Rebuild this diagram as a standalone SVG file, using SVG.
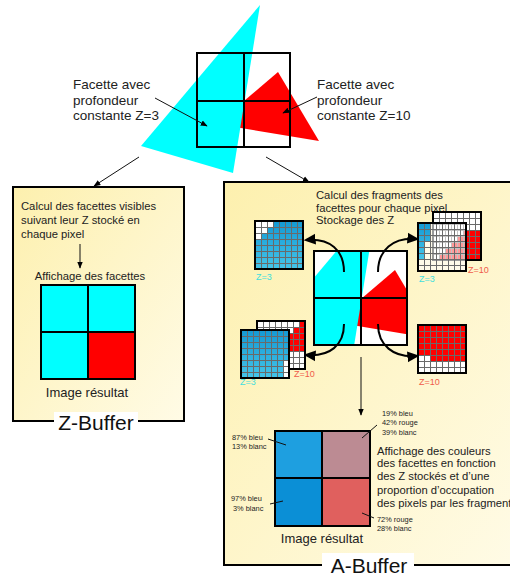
<svg xmlns="http://www.w3.org/2000/svg" xmlns:xlink="http://www.w3.org/1999/xlink" width="510" height="576" viewBox="0 0 510 576">
<style>
text{font-family:"Liberation Sans",Arial,sans-serif;fill:#222}
.lbl{font-size:13.5px}
.t{font-size:11.25px}
.res{font-size:13px}
.pct{font-size:7.4px}
.title{font-size:21px;fill:#111}
.z3{font-size:9px;fill:#40dede}
.z10{font-size:9px;fill:#f05a4a}
.ln{stroke:#111;stroke-width:1;fill:none}
.cv{stroke:#000;stroke-width:2;fill:none;marker-end:url(#ahBig)}
.frame{fill:none;stroke:#000;stroke-width:2}
.gfr{fill:none;stroke:#000;stroke-width:2}
.box{stroke:#000;stroke-width:2}
</style>
<defs>
<marker id="ah" viewBox="0 0 10 10" refX="9" refY="5" markerWidth="7" markerHeight="7" markerUnits="userSpaceOnUse" orient="auto"><path d="M0,1L10,5L0,9z" fill="#000"/></marker>
<marker id="ahBig" viewBox="0 0 10 10" refX="8" refY="5" markerWidth="12" markerHeight="12" markerUnits="userSpaceOnUse" orient="auto"><path d="M0,0.5L10,5L0,9.5z" fill="#000"/></marker>
<linearGradient id="boxg" x1="0" y1="0" x2="1" y2="1"><stop offset="0" stop-color="#fdf0ae"/><stop offset="1" stop-color="#fffbe6"/></linearGradient>
<linearGradient id="blueg" x1="0" y1="0" x2="0" y2="1"><stop offset="0" stop-color="#1399d3"/><stop offset="1" stop-color="#45c5ea"/></linearGradient>
<pattern id="gl" width="6" height="6" patternUnits="userSpaceOnUse"><path d="M0.5,0V6M0,0.5H6" stroke="#6a6a6a" stroke-width="1" fill="none"/></pattern>
<clipPath id="gclip"><rect x="197" y="53" width="93" height="94"/></clipPath>
<g id="facets">
<polygon points="278,72 319,141 217,124" fill="#ff0000"/>
<polygon points="260,5 141,146 233,173" fill="#00ffff"/>
</g>
</defs>

<g id="top-scene">
<use xlink:href="#facets"/>
<rect x="197" y="53" width="93" height="94" class="frame"/>
<path d="M244,53V147M197,101H290" class="frame"/>
</g>

<g id="label-z3">
<text class="lbl" x="73" y="89">Facette avec</text>
<text class="lbl" x="73" y="105">profondeur</text>
<text class="lbl" x="73" y="120">constante Z=3</text>
</g>
<g id="label-z10">
<text class="lbl" x="317" y="89">Facette avec</text>
<text class="lbl" x="317" y="105">profondeur</text>
<text class="lbl" x="317" y="120">constante Z=10</text>
</g>

<g id="zbuffer">
<rect x="13" y="187" width="171" height="234" fill="url(#boxg)" class="box"/>
<text class="t" x="21" y="210">Calcul des facettes visibles</text>
<text class="t" x="21" y="224">suivant leur Z stocké en</text>
<text class="t" x="21" y="237.5">chaque pixel</text>
<text class="t" x="90" y="280" text-anchor="middle">Affichage des facettes</text>
<rect x="41" y="285" width="47" height="47" fill="#00ffff"/>
<rect x="88" y="285" width="47" height="47" fill="#00ffff"/>
<rect x="41" y="332" width="47" height="47" fill="#00ffff"/>
<rect x="88" y="332" width="47" height="47" fill="#ff0000"/>
<rect x="41" y="285" width="94" height="94" class="frame"/>
<path d="M88,285V379M41,332H135" class="frame"/>
<text class="res" x="87" y="397" text-anchor="middle">Image résultat</text>
<rect x="54" y="412" width="84" height="22" fill="#fff"/>
<text class="title" x="96" y="430" text-anchor="middle">Z-Buffer</text>
</g>

<g id="abuffer">
<rect x="224" y="182" width="292" height="383" fill="url(#boxg)" class="box"/>
<text class="t" x="316" y="198.5">Calcul des fragments des</text>
<text class="t" x="316" y="211.5">facettes pour chaque pixel</text>
<text class="t" x="316" y="224">Stockage des Z</text>

<g id="central-image">
<rect x="314" y="251" width="93" height="94" fill="#fff"/>
<g transform="translate(117,198)" clip-path="url(#gclip)"><use xlink:href="#facets"/></g>
<rect x="314" y="251" width="93" height="94" class="frame"/>
<path d="M361,251V345M314,298H407" class="frame"/>
</g>

<g id="grid-tl" transform="translate(255,221)">
<rect width="48" height="48" fill="url(#blueg)"/>
<path d="M0,0H18V6H12V12H6V18H0z" fill="#fff"/>
<rect width="48" height="48" fill="url(#gl)"/>
<rect width="48" height="48" class="gfr"/>
</g>
<text class="z3" x="256" y="280">Z=3</text>

<g id="grid-tr-back" transform="translate(433,212)">
<rect width="48" height="48" fill="#fff"/>
<path d="M30,18H48V48H6V42H12V36H18V30H24V24H30z" fill="#f00"/>
<rect width="48" height="48" fill="url(#gl)"/>
<rect width="48" height="48" class="gfr"/>
</g>
<g id="grid-tr-front" transform="translate(418,223)">
<rect width="48" height="48" fill="#fff" fill-opacity="0.6"/>
<path d="M0,0H12V18H6V36H0z" fill="url(#blueg)"/>
<rect width="48" height="48" fill="url(#gl)"/>
<rect width="48" height="48" class="gfr"/>
</g>
<text class="z10" x="468" y="273">Z=10</text>
<text class="z3" x="419" y="282">Z=3</text>

<g id="grid-bl-back" transform="translate(257,321)">
<rect width="48" height="48" fill="#fff"/>
<path d="M42,0H48V30H24V18H30V12H36V6H42z" fill="#f00"/>
<rect width="48" height="48" fill="url(#gl)"/>
<rect width="48" height="48" class="gfr"/>
</g>
<g id="grid-bl-front" transform="translate(241,330)">
<rect width="48" height="48" fill="url(#blueg)"/>
<rect x="42" y="30" width="6" height="18" fill="#fff"/>
<rect width="48" height="48" fill="url(#gl)"/>
<rect width="48" height="48" class="gfr"/>
</g>
<text class="z3" x="240" y="385">Z=3</text>
<text class="z10" x="294" y="377">Z=10</text>

<g id="grid-br" transform="translate(418,325)">
<rect width="48" height="48" fill="#f00"/>
<path d="M0,30H12V36H48V48H0z" fill="#fff"/>
<rect width="48" height="48" fill="url(#gl)"/>
<rect width="48" height="48" class="gfr"/>
</g>
<text class="z10" x="419" y="385">Z=10</text>

<g id="result">
<rect x="275" y="431" width="47" height="47" fill="#1e9fe0"/>
<rect x="322" y="431" width="48" height="47" fill="#bc8b93"/>
<rect x="275" y="478" width="47" height="48" fill="#0b8fd6"/>
<rect x="322" y="478" width="48" height="48" fill="#e0605e"/>
<rect x="275" y="431" width="95" height="95" class="frame"/>
<path d="M322,431V526M275,478H370" class="frame"/>
</g>
<text class="pct" x="382" y="416">19% bleu</text>
<text class="pct" x="382" y="425">42% rouge</text>
<text class="pct" x="382" y="435">39% blanc</text>
<text class="pct" x="232" y="439.5">87% bleu</text>
<text class="pct" x="232" y="448.5">13% blanc</text>
<text class="pct" x="231" y="500.5">97% bleu</text>
<text class="pct" x="233" y="510.5">3% blanc</text>
<text class="pct" x="377" y="521.5">72% rouge</text>
<text class="pct" x="377" y="530.5">28% blanc</text>
<text class="t" x="377" y="454.5">Affichage des couleurs</text>
<text class="t" x="377" y="467">des facettes en fonction</text>
<text class="t" x="377" y="480">des Z stockés et d’une</text>
<text class="t" x="377" y="493.5">proportion d’occupation</text>
<text class="t" x="377" y="506.5">des pixels par les fragments</text>
<text class="res" x="322" y="543" text-anchor="middle">Image résultat</text>
<rect x="322" y="553" width="92" height="23" fill="#fff"/>
<text class="title" x="369" y="573" text-anchor="middle">A-Buffer</text>
</g>

<g id="connectors">
<line x1="155" y1="98" x2="207" y2="126" class="ln" marker-end="url(#ah)"/>
<line x1="317" y1="97" x2="283" y2="113" class="ln" marker-end="url(#ah)"/>
<line x1="139" y1="157" x2="94" y2="186" class="ln" marker-end="url(#ah)"/>
<line x1="266" y1="157" x2="309" y2="182" class="ln" marker-end="url(#ah)"/>
<line x1="80" y1="244" x2="80" y2="268" class="ln" marker-end="url(#ah)"/>
<line x1="361" y1="357" x2="361" y2="415" class="ln" marker-end="url(#ah)"/>
<path d="M344,272C344,250 330,238 306,240" class="cv"/>
<path d="M378,272C378,250 393,237 417,239" class="cv"/>
<path d="M344,324C344,345 330,357 306,355" class="cv"/>
<path d="M378,324C378,345 393,358 417,356" class="cv"/>
<path d="M377,425L362,438M268,439L286,445M270,504L283,501M362,513L374,518" class="ln"/>
</g>
</svg>
